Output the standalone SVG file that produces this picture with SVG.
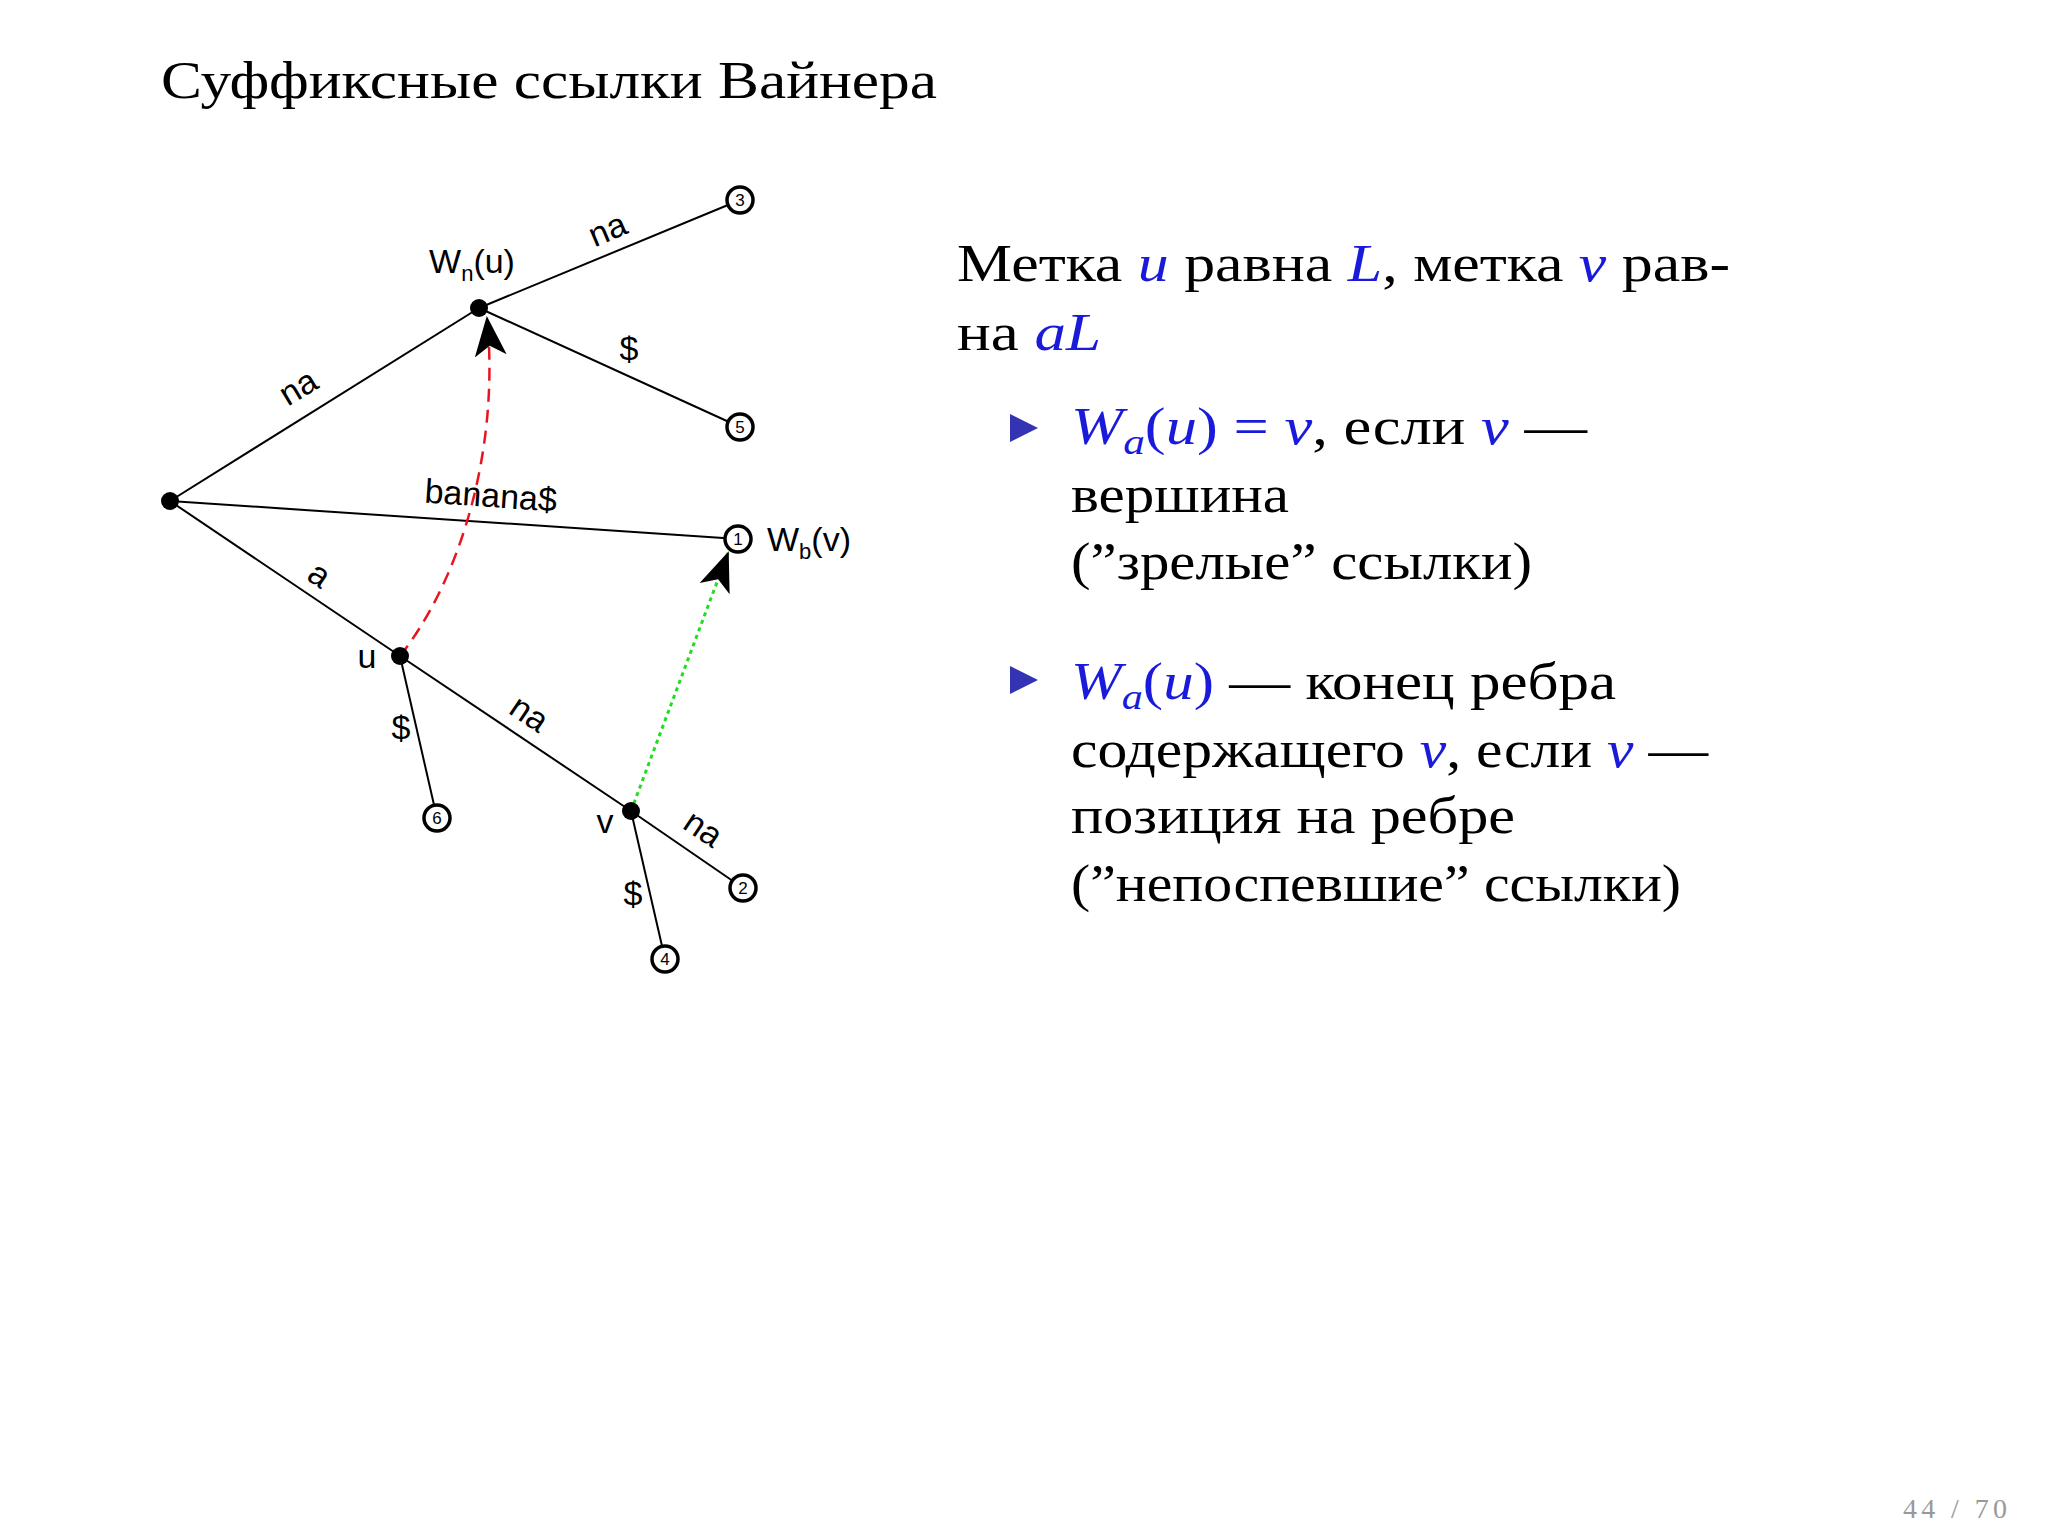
<svg xmlns="http://www.w3.org/2000/svg" width="2048" height="1536" viewBox="0 0 2048 1536">
<style>
.e{stroke:#000;stroke-width:2;fill:none}
.lf{fill:#fff;stroke:#000;stroke-width:3.5}
.lt{font-family:"Liberation Sans",Arial,sans-serif;font-size:17px;text-anchor:middle}
.t{font-family:"Liberation Sans",Arial,sans-serif;font-size:34px;text-anchor:middle}
.s{font-family:"Liberation Serif","DejaVu Serif",serif;font-size:52px}
.b{fill:#1a1adb;font-style:italic}
</style>
<defs>
<marker id="ah2" viewBox="0 0 40 40" refX="38" refY="20" markerWidth="40" markerHeight="40" markerUnits="userSpaceOnUse" orient="auto"><path d="M0,4 L40,20 L0,36 L10,20 Z" fill="#000"/></marker>
</defs>
<rect width="2048" height="1536" fill="#fff"/>
<text x="161" y="98" class="s" font-size="54" textLength="776" lengthAdjust="spacingAndGlyphs">Суффиксные ссылки Вайнера</text>
<g id="connectors">
<line class="e" x1="170" y1="501" x2="479" y2="308"/>
<line class="e" x1="479" y1="308" x2="740" y2="200"/>
<line class="e" x1="479" y1="308" x2="740" y2="427"/>
<line class="e" x1="170" y1="501" x2="738" y2="539"/>
<line class="e" x1="170" y1="501" x2="400" y2="656"/>
<line class="e" x1="400" y1="656" x2="437" y2="818"/>
<line class="e" x1="400" y1="656" x2="631" y2="811"/>
<line class="e" x1="631" y1="811" x2="743" y2="888"/>
<line class="e" x1="631" y1="811" x2="665" y2="959"/>
<path d="M400,656 C460,580 500,450 487,318" fill="none" stroke="#e8141e" stroke-width="2.5" stroke-dasharray="13,8" marker-end="url(#ah2)"/>
<line x1="631" y1="811" x2="728" y2="553" stroke="#22dd22" stroke-width="3" stroke-dasharray="4,4" marker-end="url(#ah2)"/>
<text class="t" transform="translate(304,397) rotate(-31)">na</text>
<text class="t" transform="translate(612,240) rotate(-23)">na</text>
<text class="t" x="629" y="360">$</text>
<text class="t" transform="translate(490,507) rotate(4)">banana$</text>
<text class="t" transform="translate(313,584) rotate(34)">a</text>
<text class="t" x="401" y="739">$</text>
<text class="t" transform="translate(523,723) rotate(34)">na</text>
<text class="t" transform="translate(697,838) rotate(34)">na</text>
<text class="t" x="633" y="905">$</text>
</g>
<g id="root"><circle cx="170" cy="501" r="9"/></g>
<g id="wn"><circle cx="479" cy="308" r="9"/><text class="t" x="472" y="273">W<tspan font-size="22" dy="8">n</tspan><tspan dy="-8">(u)</tspan></text></g>
<g id="u"><circle cx="400" cy="656" r="9"/><text class="t" x="367" y="668">u</text></g>
<g id="v"><circle cx="631" cy="811" r="9"/><text class="t" x="605" y="833">v</text></g>
<g id="l3"><circle class="lf" cx="740" cy="200" r="13"/><text class="lt" x="740" y="206">3</text></g>
<g id="l5"><circle class="lf" cx="740" cy="427" r="13"/><text class="lt" x="740" y="433">5</text></g>
<g id="l1"><circle class="lf" cx="738" cy="539" r="13"/><text class="lt" x="738" y="545">1</text><text class="t" x="767" y="551" style="text-anchor:start">W<tspan font-size="22" dy="8">b</tspan><tspan dy="-8">(v)</tspan></text></g>
<g id="l6"><circle class="lf" cx="437" cy="818" r="13"/><text class="lt" x="437" y="824">6</text></g>
<g id="l2"><circle class="lf" cx="743" cy="888" r="13"/><text class="lt" x="743" y="894">2</text></g>
<g id="l4"><circle class="lf" cx="665" cy="959" r="13"/><text class="lt" x="665" y="965">4</text></g>
<g id="text">
<text class="s" x="957" y="281" textLength="773" lengthAdjust="spacingAndGlyphs">Метка <tspan class="b">u</tspan> равна <tspan class="b">L</tspan>, метка <tspan class="b">v</tspan> рав-</text>
<text class="s" x="957" y="350" textLength="144" lengthAdjust="spacingAndGlyphs">на <tspan class="b">aL</tspan></text>
<path d="M1010,414 L1038,428 L1010,442 Z" fill="#3333b3"/>
<text class="s" x="1071" y="444" textLength="516" lengthAdjust="spacingAndGlyphs"><tspan class="b">W<tspan font-size="36" dy="10">a</tspan><tspan dy="-10" font-style="normal">(</tspan>u<tspan font-style="normal">) = </tspan>v</tspan>, если <tspan class="b">v</tspan> —</text>
<text class="s" x="1071" y="512" textLength="218" lengthAdjust="spacingAndGlyphs">вершина</text>
<text class="s" x="1071" y="579" textLength="461" lengthAdjust="spacingAndGlyphs">(”зрелые” ссылки)</text>
<path d="M1010,666 L1038,680 L1010,694 Z" fill="#3333b3"/>
<text class="s" x="1071" y="699" textLength="545" lengthAdjust="spacingAndGlyphs"><tspan class="b">W<tspan font-size="36" dy="10">a</tspan><tspan dy="-10" font-style="normal">(</tspan>u<tspan font-style="normal">)</tspan></tspan> — конец ребра</text>
<text class="s" x="1071" y="767" textLength="637" lengthAdjust="spacingAndGlyphs">содержащего <tspan class="b">v</tspan>, если <tspan class="b">v</tspan> —</text>
<text class="s" x="1071" y="833" textLength="444" lengthAdjust="spacingAndGlyphs">позиция на ребре</text>
<text class="s" x="1071" y="901" textLength="610" lengthAdjust="spacingAndGlyphs">(”непоспевшие” ссылки)</text>
<text x="1903" y="1518" font-family="Liberation Serif,serif" font-size="28" fill="#999" textLength="104">44 / 70</text>
</g>
</svg>
